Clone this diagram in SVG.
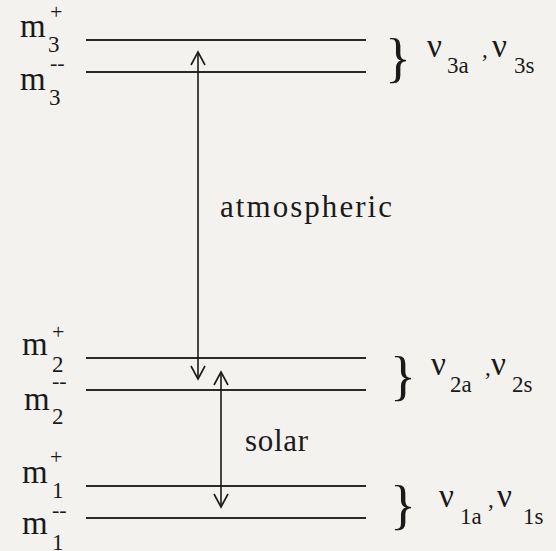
<svg xmlns="http://www.w3.org/2000/svg" width="556" height="551" viewBox="0 0 556 551">
<defs>
<style>
.t{font-family:"Liberation Serif","Times New Roman",serif;fill:#1a1a1a}
.m{font-size:33px}
.sub{font-size:23px}
.sup{font-size:22px}
.nu{font-size:33px}
.br{font-size:54px}
.lbl{font-size:31px}
.lvl{stroke:#2a2a2a;stroke-width:2.2;fill:none}
.arr{stroke:#1a1a1a;stroke-width:1.6;fill:none}
</style>
<marker id="ah" viewBox="0 0 16 16" refX="14" refY="8" markerWidth="16" markerHeight="16" markerUnits="userSpaceOnUse" orient="auto-start-reverse">
<path d="M1,1 L14,8 L1,15" fill="none" stroke="#1a1a1a" stroke-width="1.6"/>
</marker>
</defs>
<rect width="556" height="551" fill="#f4f2ee"/>
<g id="level-m3p"><line class="lvl" x1="86" y1="40" x2="366" y2="40"/><text class="t m" x="20" y="37">m</text><text class="t sub" x="48" y="52">3</text><text class="t sup" x="50" y="19">+</text></g>
<g id="level-m3m"><line class="lvl" x1="86" y1="72" x2="366" y2="72"/><text class="t m" x="20" y="90">m</text><text class="t sub" x="49" y="105">3</text><text class="t sup" x="50" y="70">--</text></g>
<g id="level-m2p"><line class="lvl" x1="86" y1="358" x2="366" y2="358"/><text class="t m" x="22" y="355">m</text><text class="t sub" x="52" y="372">2</text><text class="t sup" x="52" y="339">+</text></g>
<g id="level-m2m"><line class="lvl" x1="86" y1="390" x2="366" y2="390"/><text class="t m" x="24" y="410">m</text><text class="t sub" x="52" y="424">2</text><text class="t sup" x="52" y="388">--</text></g>
<g id="level-m1p"><line class="lvl" x1="86" y1="486" x2="366" y2="486"/><text class="t m" x="22" y="483">m</text><text class="t sub" x="52" y="498">1</text><text class="t sup" x="50" y="464">+</text></g>
<g id="level-m1m"><line class="lvl" x1="86" y1="518" x2="366" y2="518"/><text class="t m" x="22" y="534">m</text><text class="t sub" x="52" y="550">1</text><text class="t sup" x="52" y="517">--</text></g>
<g id="pair3"><text class="t br" x="385" y="76">}</text><text class="t nu" x="427" y="57">ν</text><text class="t sub" x="447" y="73">3a</text><text class="t sub" x="482" y="57">,</text><text class="t nu" x="492" y="57">ν</text><text class="t sub" x="514" y="73">3s</text></g>
<g id="pair2"><text class="t br" x="390" y="394">}</text><text class="t nu" x="431" y="375">ν</text><text class="t sub" x="450" y="392">2a</text><text class="t sub" x="485" y="375">,</text><text class="t nu" x="491" y="375">ν</text><text class="t sub" x="512" y="392">2s</text></g>
<g id="pair1"><text class="t br" x="390" y="523">}</text><text class="t nu" x="439" y="507">ν</text><text class="t sub" x="460" y="524">1a</text><text class="t sub" x="488" y="507">,</text><text class="t nu" x="497" y="507">ν</text><text class="t sub" x="523" y="524">1s</text></g>
<g id="connectors">
<line class="arr" x1="198" y1="52" x2="198" y2="379" marker-start="url(#ah)" marker-end="url(#ah)"/>
<line class="arr" x1="221" y1="372" x2="221" y2="507" marker-start="url(#ah)" marker-end="url(#ah)"/>
<text class="t lbl" x="220" y="217" textLength="172" lengthAdjust="spacing">atmospheric</text>
<text class="t lbl" x="245" y="451" textLength="63" lengthAdjust="spacing">solar</text>
</g>
</svg>
